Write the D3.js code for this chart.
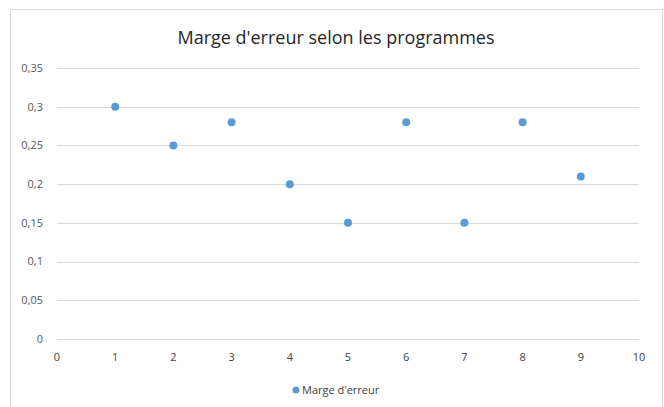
<!DOCTYPE html>
<html><head><meta charset="utf-8">
<script src="https://cdn.jsdelivr.net/npm/d3@7"></script>
<style>body{margin:0;background:#fff;} svg{display:block;}</style>
</head><body>
<svg id="c" width="664" height="407"></svg>
<script>
const programmes = [1, 2, 3, 4, 5, 6, 7, 8, 9];
const marges = [0.3, 0.25, 0.28, 0.2, 0.15, 0.28, 0.15, 0.28, 0.21];
const xTicks = [0, 1, 2, 3, 4, 5, 6, 7, 8, 9, 10];
const yTicks = [0, 0.05, 0.1, 0.15, 0.2, 0.25, 0.3, 0.35];
const title = "Marge d'erreur selon les programmes";
const seriesName = "Marge d'erreur";

const svg = d3.select("#c");
const font = "'Open Sans', 'Liberation Sans', sans-serif";
svg.append("rect").attr("x", 10.5).attr("y", 9.5).attr("width", 652).attr("height", 410)
  .attr("fill", "#fff").attr("stroke", "#d9d9d9");

const x = d3.scaleLinear().domain([0, 10]).range([57, 639]);
const y = d3.scaleLinear().domain([0, 0.35]).range([339, 68]);
const fmt = d => d3.format("")(d).replace(".", ",");

svg.append("g").selectAll("line").data(yTicks).join("line")
  .attr("x1", x(0)).attr("x2", x(10))
  .attr("y1", d => Math.round(y(d)) + 0.5).attr("y2", d => Math.round(y(d)) + 0.5)
  .attr("stroke", "#d9d9d9").attr("stroke-width", 1);

svg.append("g").selectAll("text").data(yTicks).join("text")
  .attr("x", 43).attr("y", d => y(d)).attr("dy", "0.35em")
  .attr("text-anchor", "end").attr("font-family", font).attr("font-size", 11)
  .attr("fill", "#595959").text(fmt);

svg.append("g").selectAll("text").data(xTicks).join("text")
  .attr("x", d => x(d)).attr("y", 357).attr("dy", "0.35em")
  .attr("text-anchor", "middle").attr("font-family", font).attr("font-size", 11)
  .attr("fill", "#404040").text(fmt);

svg.append("g").selectAll("circle").data(programmes).join("circle")
  .attr("cx", d => x(d)).attr("cy", (d, i) => y(marges[i])).attr("r", 4)
  .attr("fill", "#5b9bd5");

svg.append("text").attr("x", 336).attr("y", 38).attr("dy", "0.35em")
  .attr("text-anchor", "middle").attr("font-family", font).attr("font-size", 18)
  .attr("fill", "#262626").text(title);

svg.append("circle").attr("cx", 296).attr("cy", 390).attr("r", 3.5).attr("fill", "#5b9bd5");
svg.append("text").attr("x", 302).attr("y", 390).attr("dy", "0.35em")
  .attr("font-family", font).attr("font-size", 11).attr("fill", "#404040").text(seriesName);
</script>
</body></html>
